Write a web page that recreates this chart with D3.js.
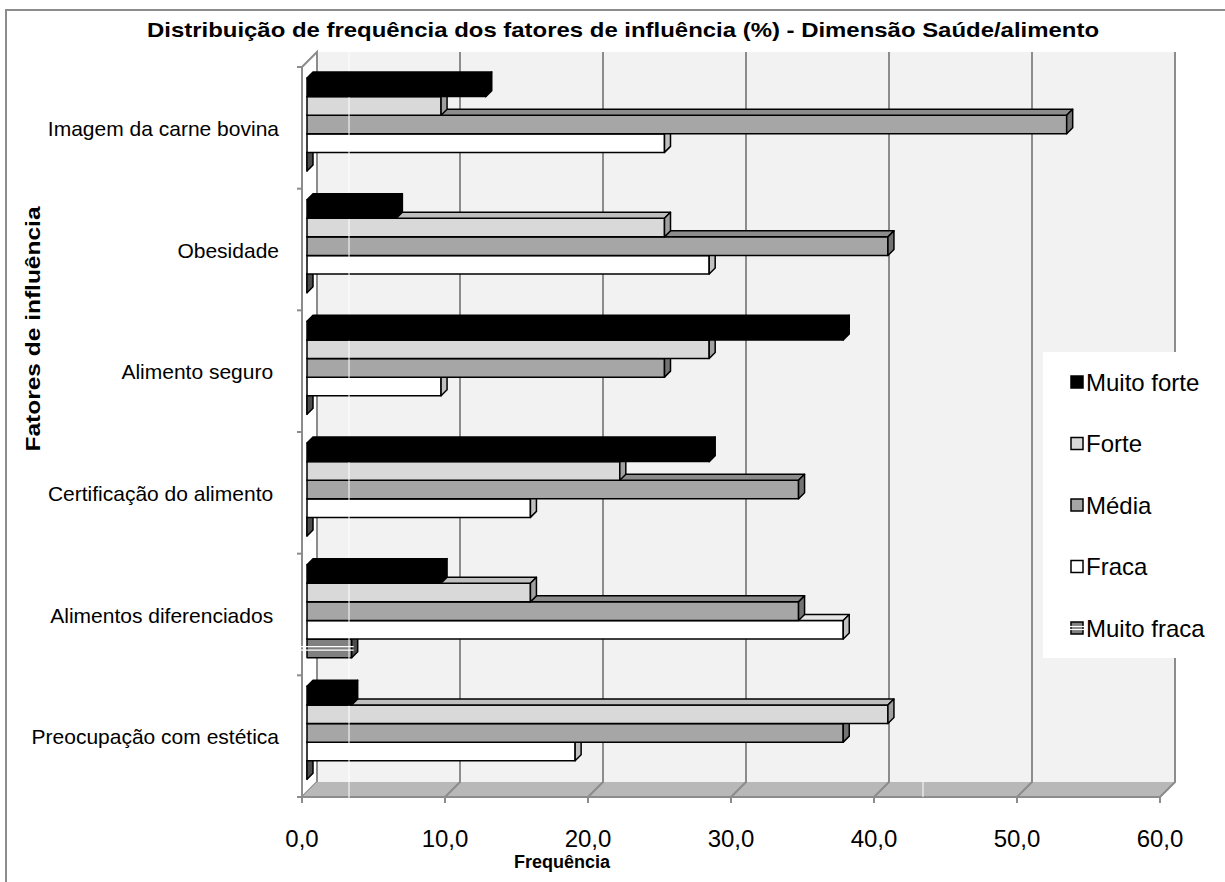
<!DOCTYPE html>
<html>
<head>
<meta charset="utf-8">
<script src="https://cdn.jsdelivr.net/npm/d3@7/dist/d3.min.js"></script>
<style>
  body { margin: 0; background: #fff; }
  svg { display: block; font-family: "Liberation Sans", Arial, sans-serif; }
</style>
</head>
<body>
<div id="chart"></div>
<script>
// data (percent)
const categories = ["Imagem da carne bovina", "Obesidade", "Alimento seguro ", "Certificação do alimento ", "Alimentos diferenciados ", "Preocupação com estética"];
const seriesNames = ["Muito forte", "Forte", "Média", "Fraca", "Muito fraca"];
const muitoForte = [12.5, 6.25, 37.5, 28.125, 9.375, 3.125];
const forte = [9.375, 25.0, 28.125, 21.875, 15.625, 40.625];
const media = [53.125, 40.625, 25.0, 34.375, 34.375, 37.5];
const fraca = [25.0, 28.125, 9.375, 15.625, 37.5, 18.75];
const muitoFraca = [0, 0, 0, 0, 3.125, 0];
const xTicks = [0, 10, 20, 30, 40, 50, 60];

const seriesValues = [muitoForte, forte, media, fraca, muitoFraca];
// front / top / side colours per series
const faceColors = [
  ["#000000", "#000000", "#000000"],
  ["#d9d9d9", "#bfbfbf", "#a0a0a0"],
  ["#a6a6a6", "#8c8c8c", "#737373"],
  ["#ffffff", "#e6e6e6", "#c0c0c0"],
  ["#808080", "#666666", "#4d4d4d"]
];

const W = 1225, H = 882;
const svg = d3.select("#chart").append("svg").attr("width", W).attr("height", H);

// outer frame
svg.append("rect").attr("x", 6).attr("y", 10).attr("width", 1240).attr("height", 900)
  .attr("fill", "#fff").attr("stroke", "#8c8c8c").attr("stroke-width", 2);

// 3D frame geometry
const front = {left: 302, right: 1160, top: 67, bottom: 797};
const D = 15; // wall depth offset
const d = 6;  // bar depth

const xFront = d3.scaleLinear().domain([0, 60]).range([front.left, front.right]);
const xBack = d3.scaleLinear().domain([0, 60]).range([front.left + D, front.right + D]);
const xBar = d3.scaleLinear().domain([0, 60]).range([front.left + 5, front.right + 5]);
const yBand = d3.scaleBand().domain(categories).range([front.top, front.bottom]).padding(0);
const yInner = d3.scaleBand().domain(seriesNames).range([11, 104]).padding(0);

const grid = "#8c8c8c";

// back wall
svg.append("rect")
  .attr("x", xBack(0)).attr("y", front.top - D)
  .attr("width", xBack(60) - xBack(0)).attr("height", front.bottom - front.top)
  .attr("fill", "#f2f2f2");

// left side wall
svg.append("polygon")
  .attr("points", [[xFront(0), front.top], [xBack(0), front.top - D], [xBack(0), front.bottom - D], [xFront(0), front.bottom]].join(" "))
  .attr("fill", "#fff").attr("stroke", grid).attr("stroke-width", 2);

// floor
svg.append("polygon")
  .attr("points", [[xFront(0), front.bottom], [xFront(60), front.bottom], [xBack(60), front.bottom - D], [xBack(0), front.bottom - D]].join(" "))
  .attr("fill", "#b8b8b8");

// gridlines on wall + floor
svg.selectAll(".grid").data(xTicks.slice(1)).enter().append("path")
  .attr("class", "grid")
  .attr("d", v => `M${xBack(v)},${front.top - D}V${front.bottom - D}L${xFront(v)},${front.bottom}`)
  .attr("fill", "none").attr("stroke", grid).attr("stroke-width", 2);

// front axis lines
svg.append("line").attr("x1", xFront(0) - 5).attr("x2", xFront(60))
  .attr("y1", front.bottom).attr("y2", front.bottom).attr("stroke", grid).attr("stroke-width", 2);
svg.append("line").attr("x1", xFront(0)).attr("x2", xFront(0))
  .attr("y1", front.top).attr("y2", front.bottom + 6).attr("stroke", grid).attr("stroke-width", 2);

// x ticks + labels
svg.selectAll(".xtick").data(xTicks).enter().append("line")
  .attr("x1", v => xFront(v)).attr("x2", v => xFront(v))
  .attr("y1", front.bottom).attr("y2", front.bottom + 6)
  .attr("stroke", grid).attr("stroke-width", 2);
svg.selectAll(".xlab").data(xTicks).enter().append("text")
  .attr("x", v => xFront(v)).attr("y", 847)
  .attr("text-anchor", "middle").attr("font-size", 24).attr("fill", "#000")
  .text(v => d3.format(".1f")(v).replace(".", ","));

// y ticks at band edges
const edges = categories.map(c => yBand(c)).concat([front.bottom]);
svg.selectAll(".ytick").data(edges).enter().append("line")
  .attr("x1", xFront(0) - 5).attr("x2", xFront(0))
  .attr("y1", y => y).attr("y2", y => y)
  .attr("stroke", grid).attr("stroke-width", 2);

// category labels
svg.selectAll(".ylab").data(categories).enter().append("text")
  .attr("x", 279).attr("y", c => yBand(c) + yBand.bandwidth() / 2 + 8)
  .attr("text-anchor", "end").attr("font-size", 21).attr("fill", "#000")
  .style("white-space", "pre").attr("xml:space", "preserve")
  .text(c => c);

// 3D bar faces
function faces(v, cat, sName) {
  const x0 = xBar(0), x1 = xBar(v);
  const y = yBand(cat) + yInner(sName), h = yInner.bandwidth();
  return {
    front: [[x0, y], [x1, y], [x1, y + h], [x0, y + h]],
    top: [[x0, y], [x1, y], [x1 + d, y - d], [x0 + d, y - d]],
    side: [[x1, y], [x1 + d, y - d], [x1 + d, y + h - d], [x1, y + h]],
    x0: x0, x1: x1, y: y, h: h
  };
}

function drawSeries(si) {
  const name = seriesNames[si];
  const cols = faceColors[si];
  const g = svg.append("g").attr("class", "series");
  const rows = categories.map((c, i) => faces(seriesValues[si][i], c, name));
  ["front", "top", "side"].forEach((k, ki) => {
    g.selectAll("." + k).data(rows).enter().append("polygon")
      .attr("class", k)
      .attr("points", r => r[k].join(" "))
      .attr("fill", cols[ki])
      .attr("stroke", "#000").attr("stroke-width", 1.5).attr("stroke-linejoin", "round");
  });
  if (name === "Muito fraca") {
    const striped = rows.filter(r => r.x1 > r.x0);
    [7.5, 11].forEach((off, k) => {
      g.selectAll(".stripe" + k).data(striped).enter().append("line")
        .attr("class", "stripe" + k)
        .attr("x1", r => r.x0 - 7).attr("x2", r => r.x1 + 2)
        .attr("y1", r => r.y + off).attr("y2", r => r.y + off)
        .attr("stroke", "#fff").attr("stroke-width", 1.2);
    });
  }
}

// bottom bars first so upper bars cover their top faces
for (let si = seriesNames.length - 1; si >= 1; si--) drawSeries(si);
svg.append("line").attr("x1", 349).attr("x2", 349).attr("y1", 45).attr("y2", 882)
  .attr("stroke", "#fff").attr("stroke-width", 1);
svg.append("line").attr("x1", 923).attr("x2", 923).attr("y1", 782).attr("y2", 797)
  .attr("stroke", "#fff").attr("stroke-width", 1);
drawSeries(0);

// title
svg.append("text").attr("x", 623).attr("y", 37)
  .attr("text-anchor", "middle").attr("font-size", 21).attr("font-weight", "bold")
  .attr("textLength", 952).attr("lengthAdjust", "spacingAndGlyphs")
  .text("Distribuição de frequência dos fatores de influência (%) - Dimensão Saúde/alimento");

// axis titles
svg.append("text").attr("x", 562).attr("y", 868)
  .attr("text-anchor", "middle").attr("font-size", 18).attr("font-weight", "bold")
  .text("Frequência");
svg.append("text").attr("transform", "translate(40,329) rotate(-90)")
  .attr("text-anchor", "middle").attr("font-size", 21).attr("font-weight", "bold")
  .attr("textLength", 245).attr("lengthAdjust", "spacingAndGlyphs")
  .text("Fatores de influência");

// legend
const lg = svg.append("g").attr("class", "legend");
lg.append("rect").attr("x", 1043).attr("y", 352).attr("width", 200).attr("height", 306).attr("fill", "#fff");
const items = lg.selectAll(".item").data(seriesNames).enter().append("g")
  .attr("transform", (s, i) => `translate(1071,${382 + i * 61.5})`);
items.append("rect").attr("x", 0).attr("y", -6).attr("width", 12).attr("height", 12)
  .attr("fill", (s, i) => faceColors[i][0]).attr("stroke", "#000").attr("stroke-width", 1.5);
items.filter(s => s === "Muito fraca").each(function() {
  const it = d3.select(this);
  [-1.5, 1.5].forEach(off => it.append("line").attr("x1", -1).attr("x2", 13)
    .attr("y1", off).attr("y2", off).attr("stroke", "#fff").attr("stroke-width", 1.2));
});
items.append("text").attr("x", 15).attr("y", 8.5).attr("font-size", 24).text(s => s);
</script>
</body>
</html>
